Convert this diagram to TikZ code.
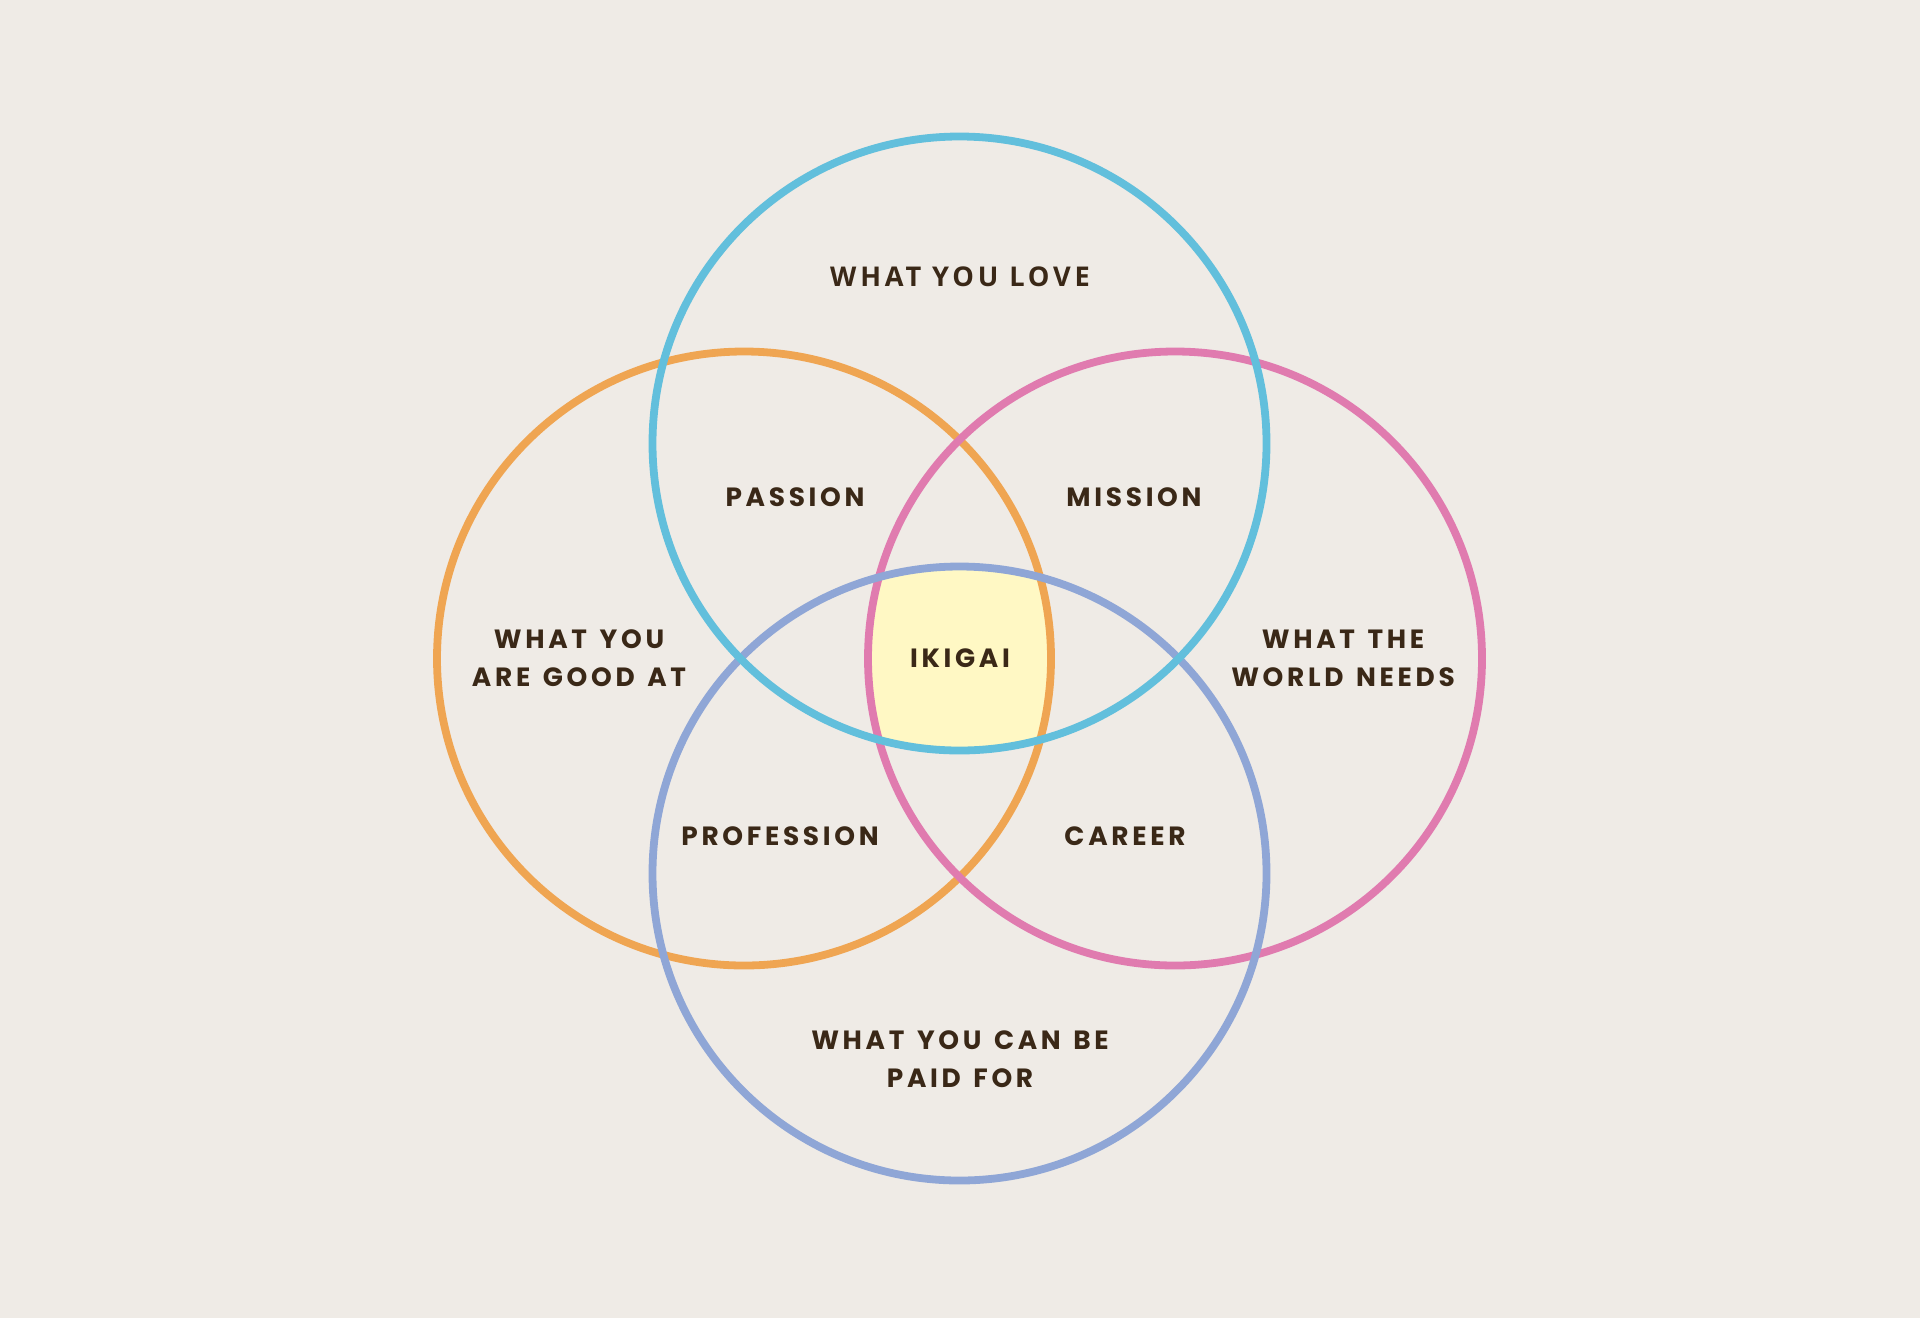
\documentclass[tikz,border=0pt]{standalone}
\usepackage{fontspec}
\newfontfamily\lblfont[LetterSpace=14,WordSpace=1.35]{Poppins}
\newfontfamily\lovefont[LetterSpace=14]{Open Sans}
\definecolor{bgc}{HTML}{EFEBE6}
\definecolor{txt}{HTML}{3A2817}
\definecolor{cblue}{HTML}{62BFDC}
\definecolor{corange}{HTML}{EFA552}
\definecolor{cpink}{HTML}{E07BAF}
\definecolor{cpurple}{HTML}{8FA6D6}
\definecolor{cyellow}{HTML}{FFF8C4}
\tikzset{
  ring/.style={line width=3.9pt},
  lbl/.style={text=txt, font=\lblfont\bfseries\fontsize{13.2}{19}\selectfont, align=center, inner sep=0pt},
  lovelbl/.style={text=txt, font=\lovefont\bfseries\fontsize{13.6}{19}\selectfont, align=center, inner sep=0pt}
}
\begin{document}
\begin{tikzpicture}[x=0.5pt,y=-0.5pt]
\fill[bgc] (0,0) rectangle (1920,1318);
\useasboundingbox (0,0) rectangle (1920,1318);
% centres
\coordinate (cT) at (959.5,443.5);
\coordinate (cB) at (959.5,873.5);
\coordinate (cL) at (744,658.5);
\coordinate (cR) at (1175,658.5);
% ikigai fill
\begin{scope}
  \clip (cT) circle[radius=153.5pt];
  \clip (cB) circle[radius=153.5pt];
  \clip (cL) circle[radius=153.5pt];
  \fill[cyellow] (cR) circle[radius=153.5pt];
\end{scope}
\draw[ring, corange] (cL) circle[radius=153.5pt];
\draw[ring, cpink] (cR) circle[radius=153.5pt];
\draw[ring, cpurple] (cB) circle[radius=153.5pt];
\draw[ring, cblue] (cT) circle[radius=153.5pt];
% labels
\node[lovelbl] (love) at (960,277) {WHAT YOU LOVE};
\node[lbl] (passion) at (795,497) {PASSION};
\node[lbl] (mission) at (1134,497) {MISSION};
\node[lbl] (good) at (579,658) {WHAT YOU\\ARE GOOD AT};
\node[lbl] (world) at (1343,658) {WHAT THE\\WORLD NEEDS};
\node[lbl] (ikigai) at (960,658) {IKIGAI};
\node[lbl] (profession) at (780,836) {PROFESSION};
\node[lbl] (career) at (1125,836) {CAREER};
\node[lbl] (paid) at (960,1059) {WHAT YOU CAN BE\\PAID FOR};
\end{tikzpicture}
\end{document}
